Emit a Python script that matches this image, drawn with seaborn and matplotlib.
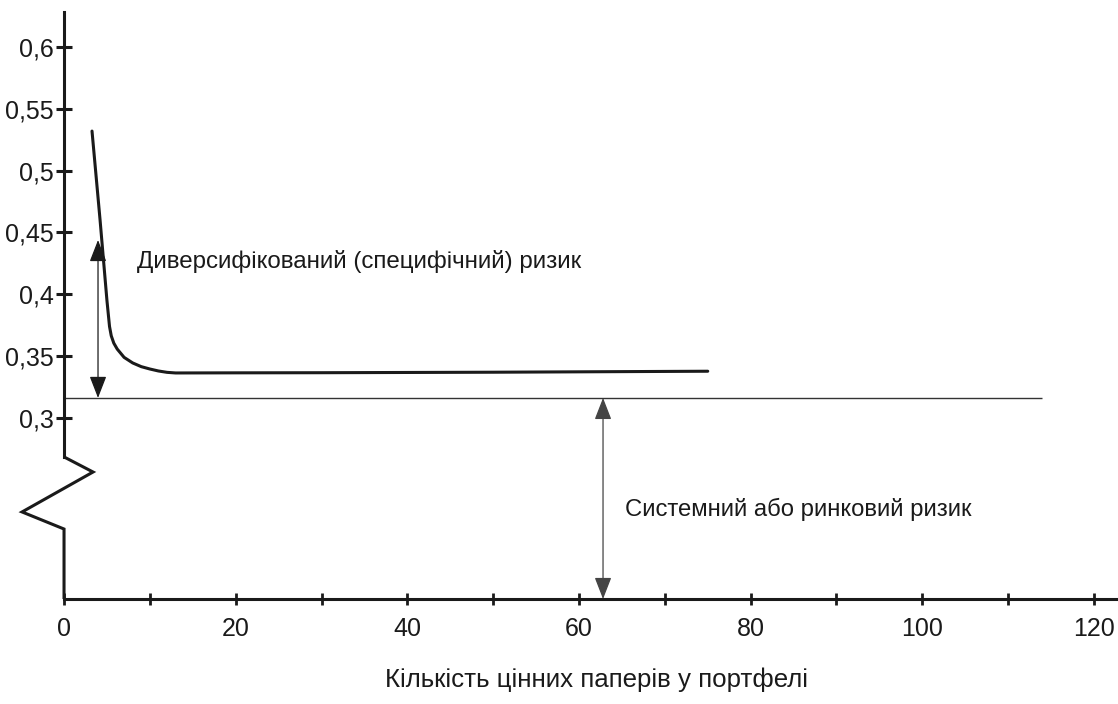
import numpy as np
import pandas as pd
import seaborn as sns
import matplotlib
matplotlib.use('Agg')
import matplotlib.pyplot as plt

# data
n_securities = [3.26, 4.2, 5.0, 5.3, 5.5, 5.8, 6.2, 7.0, 8.0, 9.0, 10.0, 11.0, 12.0, 13.0,
                20.0, 30.0, 50.0, 75.0]
total_risk = [0.532, 0.46, 0.395, 0.374, 0.3665, 0.3605, 0.3557, 0.349, 0.3445, 0.3415,
              0.3396, 0.3380, 0.3369, 0.3364, 0.3365, 0.3366, 0.3370, 0.3378]
market_risk = 0.3162
market_line_end = 113.9

y_ticks = [0.3, 0.35, 0.4, 0.45, 0.5, 0.55, 0.6]
y_tick_labels = ['0,3', '0,35', '0,4', '0,45', '0,5', '0,55', '0,6']
x_major = [0, 20, 40, 60, 80, 100, 120]
x_minor = [10, 30, 50, 70, 90, 110]

# broken-axis zigzag below 0,3
break_x = [0, 0, 3.38, -4.89, 0, 0]
break_y = [0.2685, 0.2685, 0.2563, 0.224, 0.2102, 0.1536]

spec_arrow = (3.96, market_risk, 0.4439)   # x, y0, y1
sys_arrow = (62.8, market_risk, 0.1536)

label_spec = 'Диверсифікований (специфічний) ризик'
label_sys = 'Системний або ринковий ризик'
label_x = 'Кількість цінних паперів у портфелі'

sns.set_theme(style='white')
plt.rcParams['font.family'] = ['Liberation Sans Narrow', 'Liberation Sans', 'DejaVu Sans']
ink = '#1a1a1a'

fig = plt.figure(figsize=(11.18, 7.04), dpi=100)
ax = fig.add_axes([0, 0, 1, 1])
ax.set_xlim(-7.46, 122.8)
ax.set_ylim(0.0687, 0.638)
ax.patch.set_alpha(0)

df = pd.DataFrame({'n': n_securities, 'risk': total_risk})
sns.lineplot(data=df, x='n', y='risk', ax=ax, color=ink, lw=2.2, sort=False, estimator=None)
ax.hlines(market_risk, 0, market_line_end, color='#333333', lw=1.0)
ax.plot(break_x, break_y, color=ink, lw=2.2, solid_joinstyle='miter', solid_capstyle='butt')

# arrows
arr = dict(arrowstyle='<|-|>,head_length=0.9,head_width=0.35', lw=0.9, shrinkA=0, shrinkB=0, mutation_scale=15)
ax.annotate('', xy=(spec_arrow[0], spec_arrow[2]), xytext=(spec_arrow[0], spec_arrow[1]),
            arrowprops=dict(arr, color=ink))
ax.annotate('', xy=(sys_arrow[0], sys_arrow[2]), xytext=(sys_arrow[0], sys_arrow[1]),
            arrowprops=dict(arr, color='#444444'))

ax.text(8.5, 0.4213, label_spec, fontsize=17.4, color=ink, va='baseline', ha='left')
ax.text(65.4, 0.2208, label_sys, fontsize=17.2, color=ink, va='baseline', ha='left')
ax.text(37.4, 0.0825, label_x, fontsize=18.6, color=ink, va='baseline', ha='left')

# axes
for s in ['top', 'right']:
    ax.spines[s].set_visible(False)
ax.spines['left'].set_position(('data', 0))
ax.spines['left'].set_bounds(0.2685, 0.6285)
ax.spines['bottom'].set_position(('data', 0.1536))
ax.spines['bottom'].set_bounds(0, 122.8)
for s in ['left', 'bottom']:
    ax.spines[s].set_linewidth(2.2)
    ax.spines[s].set_color(ink)

ax.set_yticks(y_ticks, y_tick_labels)
ax.set_xticks(x_major, [str(v) for v in x_major])
ax.set_xticks(x_minor, minor=True)
ax.tick_params(axis='y', direction='inout', length=11.5, width=2.2, pad=1.5,
               labelsize=18, colors=ink, left=True)
ax.tick_params(axis='x', which='both', direction='inout', length=8.6, width=2.0, pad=9,
               labelsize=18, colors=ink, bottom=True)
ax.set_xlabel('')
ax.set_ylabel('')
ax.grid(False)

fig.savefig('out.png', dpi=100)
